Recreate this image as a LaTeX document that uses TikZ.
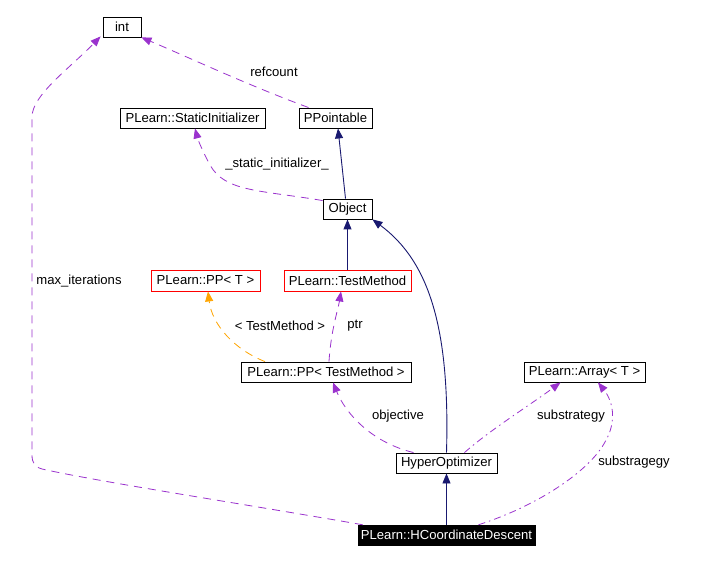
\documentclass[tikz,border=0pt]{standalone}
\usepackage{fontspec}
\setmainfont{Liberation Sans}
\usetikzlibrary{arrows.meta}
\definecolor{edgepurple}{HTML}{9A32CD}
\definecolor{edgenavy}{HTML}{191970}
\definecolor{edgeorange}{HTML}{FFA500}
\begin{document}
\begin{tikzpicture}[x=1pt,y=-1pt,
  font=\fontsize{13.1}{15}\selectfont,
  cls/.style={draw=black,line width=0.9pt,inner sep=0pt,fill=white},
  redcls/.style={draw=red,line width=0.9pt,inner sep=0pt,fill=white},
  tip/.style={-{Triangle[length=10pt,width=8pt]}},
  inherit/.style={draw=edgenavy,line width=0.9pt,tip},
  usage/.style={draw=edgepurple,line width=0.8pt,dash pattern=on 8pt off 6pt,tip},
  usagedd/.style={draw=edgepurple,line width=0.8pt,dash pattern=on 7pt off 4pt on 1.5pt off 4pt,tip},
  templ/.style={draw=edgeorange,line width=0.8pt,dash pattern=on 8pt off 6pt,tip},
  lbl/.style={inner sep=0pt,font=\fontsize{13.1}{15}\selectfont}
]
\useasboundingbox[fill=white] (0,0) rectangle (710,561);

\node[cls,minimum width=38pt,minimum height=20pt] (int) at (122,27) {int};
\node[cls,minimum width=145pt,minimum height=20pt] (sinit) at (192.5,118) {PLearn::StaticInitializer};
\node[cls,minimum width=73pt,minimum height=20pt] (ppt) at (335.5,118) {PPointable};
\node[cls,minimum width=49pt,minimum height=20pt] (obj) at (347.5,209) {Object};
\node[redcls,minimum width=109pt,minimum height=21pt] (ppT) at (205.5,280.5) {PLearn::PP< T >};
\node[redcls,minimum width=127pt,minimum height=21pt] (tm) at (347.5,280.5) {PLearn::TestMethod};
\node[cls,minimum width=170pt,minimum height=20pt] (pptm) at (326,372) {PLearn::PP< TestMethod >};
\node[cls,minimum width=121pt,minimum height=20pt] (arr) at (584.5,372) {PLearn::Array< T >};
\node[cls,minimum width=101pt,minimum height=20pt] (hyp) at (446.5,463) {HyperOptimizer};
\node[draw=black,fill=black,text=white,inner sep=0pt,minimum width=177pt,minimum height=20pt] (hcd) at (446.5,535) {PLearn::HCoordinateDescent};

% inheritance
\draw[inherit] ([xshift=-2pt]obj.north) -- ([xshift=2.5pt]ppt.south);
\draw[inherit] (tm.north) -- (obj.south);
\draw[inherit] (hyp.north) .. controls (450,330) and (430,262) .. (obj.south east);
\draw[inherit] (hcd.north) -- (hyp.south);

% usage
\draw[usage] ([xshift=10pt]ppt.north west) .. controls (250,86) and (190,58) .. (int.south east);
\draw[usage] ([xshift=5pt]hcd.north west) .. controls (250,505) and (100,482) .. (42,469)
  .. controls (35,467) and (32,463) .. (32,455) -- (32,117)
  .. controls (32,95) and (70,68) .. ([xshift=-2pt,yshift=1pt]int.south west);
\draw[usage] ([yshift=-2pt]obj.north west) .. controls (260,190) and (225,192) .. (210,165)
  .. controls (203,152) and (198,140) .. ([xshift=2.5pt]sinit.south);
\draw[usage] ([xshift=3pt]pptm.north) .. controls (331,330) and (338,310) .. ([xshift=-6.5pt]tm.south);
\draw[usage] ([xshift=-33pt]hyp.north) .. controls (370,442) and (345,412) .. ([xshift=7pt]pptm.south);
\draw[templ] ([xshift=-61pt]pptm.north) .. controls (235,350) and (212,325) .. ([xshift=2.5pt]ppT.south);
\draw[usagedd] ([xshift=18pt]hyp.north) .. controls (490,430) and (530,405) .. ([xshift=-24pt]arr.south);
\draw[usagedd] ([xshift=32pt]hcd.north) .. controls (540,505) and (590,470) .. (605,442)
  .. controls (618,420) and (612,400) .. ([xshift=13.5pt]arr.south);

% labels
\node[lbl] (lrefcount) at (274,72) {refcount};
\node[lbl] (lstatic) at (277,164) {\_static\_initializer\_};
\node[lbl] (lmax) at (79,281) {max\_iterations};
\node[lbl] (ltm) at (280,326) {< TestMethod >};
\node[lbl] (lptr) at (355,326) {ptr};
\node[lbl] (lobj) at (398,416) {objective};
\node[lbl] (lsub) at (571,416) {substrategy};
\node[lbl] (lsubg) at (634,462) {substragegy};
\end{tikzpicture}
\end{document}
